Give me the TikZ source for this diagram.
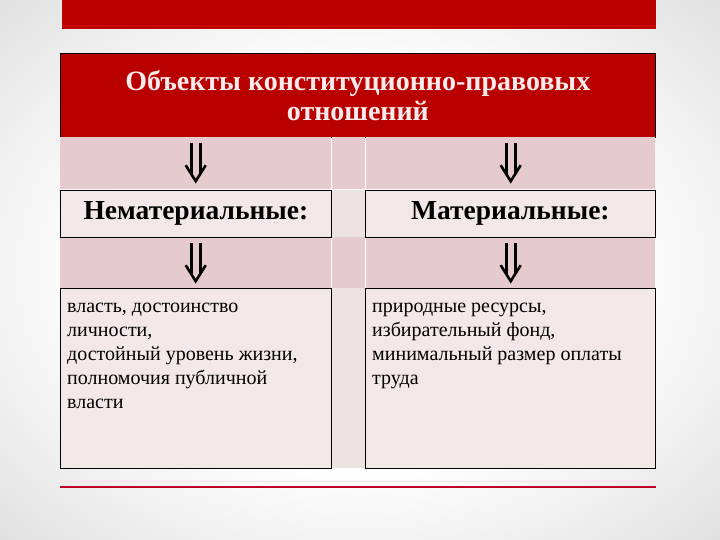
\documentclass[tikz,border=0pt]{standalone}
\usepackage{fontspec}
\setmainfont{Liberation Serif}
\definecolor{titlered}{RGB}{184,0,0}
\definecolor{barred}{RGB}{200,10,10}
\definecolor{cellpink}{RGB}{229,203,205}
\definecolor{boxpink}{RGB}{242,232,232}
\definecolor{midpink}{RGB}{237,226,226}
\definecolor{linered}{RGB}{192,0,36}
\pgfdeclareradialshading{slidebg}{\pgfpoint{0bp}{0bp}}{color(0bp)=(white); color(18bp)=(white); color(34bp)=(black!11); color(50bp)=(black!25)}
\begin{document}
\begin{tikzpicture}[x=1pt,y=-1pt,
	cell/.style={fill=cellpink,minimum width=#1,minimum height=52,inner sep=0,anchor=north west},
	gap/.style={fill=midpink,minimum width=33,minimum height=#1,inner sep=0,anchor=north west},
	box/.style={draw=black,fill=boxpink,line width=0.8pt,minimum width=#1,inner sep=0,anchor=north west},
	downarrow/.style={line width=2.6pt,line join=miter}]
	% background
	\shade[shading=slidebg] (0,0) rectangle (720,540);
	\useasboundingbox (0,0) rectangle (720,540);
	% top bar
	\fill[titlered] (62,0) rectangle (656,29);
	\draw[barred,line width=2pt] (62,26) -- (656,26);
	% title
	\node[draw=black,fill=titlered,line width=0.8pt,minimum width=595,minimum height=84,anchor=north west,
		text=white!92!red,align=center,font=\fontsize{28}{30}\selectfont\bfseries] (title) at (60,53)
		{Объекты конституционно-правовых\\отношений};
	% arrow rows
	\foreach \y/\n in {137/a,237/b}{
		\node[cell=271] (\n-l) at (60,\y) {};
		\node[cell=33] (\n-m) at (332,\y) {};
		\node[cell=289] (\n-r) at (366,\y) {};
	}
	% double arrows
	\foreach \c in {a-l,a-r,b-l,b-r}{
		\draw[downarrow] ([shift={(-4.5,-20)}]\c.center) -- ([shift={(-4.5,11)}]\c.center);
		\draw[downarrow] ([shift={(4.5,-20)}]\c.center) -- ([shift={(4.5,11)}]\c.center);
		\draw[downarrow] ([shift={(-10,2)}]\c.center) -- ([shift={(0,18)}]\c.center) -- ([shift={(10,2)}]\c.center);
	}
	% headers
	\node[gap=47] (gapone) at (332,190) {};
	\node[box=271,minimum height=47,font=\fontsize{27.5}{30}\selectfont\bfseries] (nonmat) at (60,190) {Нематериальные:};
	\node[box=290,minimum height=47,font=\fontsize{27.5}{30}\selectfont\bfseries] (mat) at (365,190) {Материальные:};
	% contents
	\node[gap=180] (gaptwo) at (332,288) {};
	\node[box=271,minimum height=180] (nonmatbox) at (60,288) {};
	\node[box=290,minimum height=180] (matbox) at (365,288) {};
	\node[anchor=north west,inner sep=0,align=left,font=\fontsize{20}{24}\selectfont] (nonmattext) at (67,303)
		{власть, достоинство\\личности,\\достойный уровень жизни,\\полномочия публичной\\власти};
	\node[anchor=north west,inner sep=0,align=left,font=\fontsize{20}{24}\selectfont] (mattext) at (372,303)
		{природные ресурсы,\\избирательный фонд,\\минимальный размер оплаты\\труда};
	% bottom line
	\draw[red!12!white,line width=1pt] (60,481) -- (656,481);
	\draw[linered,line width=2.5pt] (60,487) -- (656,487);
\end{tikzpicture}
\end{document}
